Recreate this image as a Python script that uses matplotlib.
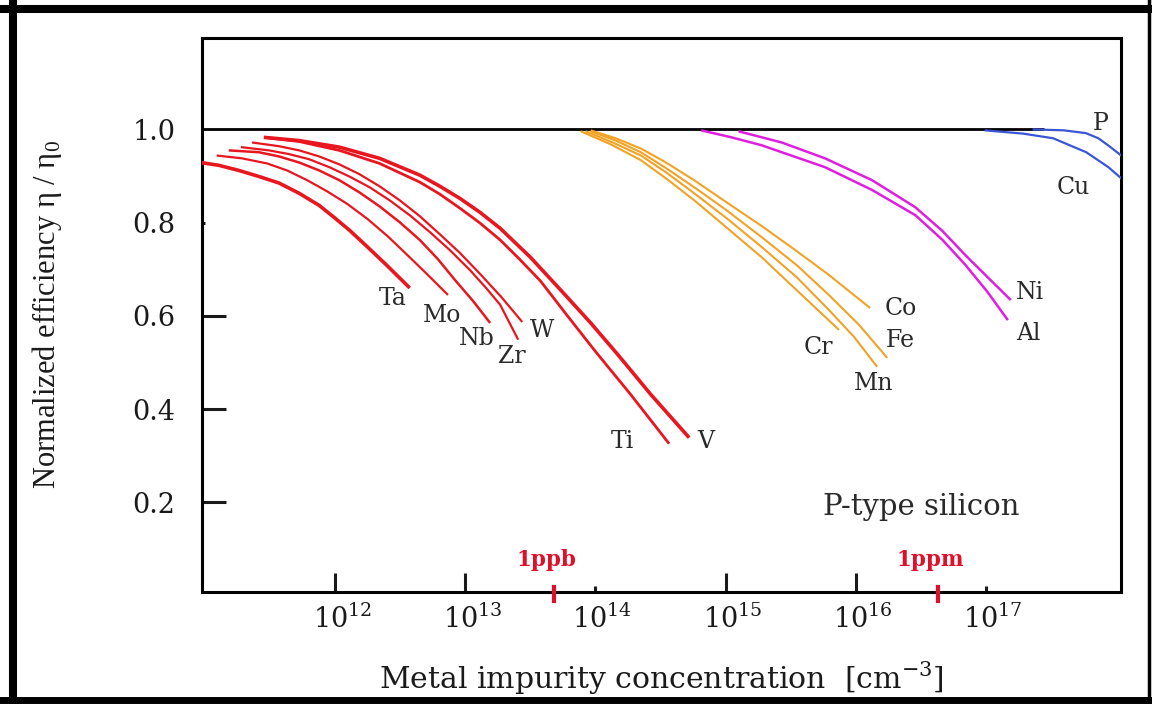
import matplotlib
matplotlib.use("Agg")
import matplotlib.pyplot as plt
import matplotlib.transforms as mtransforms
from matplotlib.lines import Line2D
import numpy as np

plt.rcParams["font.family"] = ["DejaVu Serif"]
plt.rcParams["mathtext.fontset"] = "custom"
plt.rcParams["mathtext.rm"] = "DejaVu Serif"

# ---- data: log10(concentration [cm-3]) and normalized efficiency ----
ta_lx = [10.964, 11.104, 11.258, 11.413, 11.567, 11.722, 11.876, 11.992,
         12.108, 12.247, 12.394, 12.572]
ta_eff = [0.929, 0.923, 0.912, 0.899, 0.885, 0.863, 0.837, 0.811,
          0.784, 0.748, 0.709, 0.660]
mo_lx = [11.088, 11.281, 11.475, 11.629, 11.784, 11.938, 12.093, 12.247,
         12.402, 12.556, 12.711, 12.866]
mo_eff = [0.944, 0.938, 0.927, 0.912, 0.891, 0.867, 0.840, 0.808,
          0.771, 0.730, 0.688, 0.645]
nb_lx = [11.181, 11.413, 11.567, 11.722, 11.876, 12.031, 12.185, 12.340,
         12.495, 12.649, 12.788, 12.920, 13.059, 13.190]
nb_eff = [0.955, 0.951, 0.942, 0.929, 0.912, 0.891, 0.865, 0.835,
          0.801, 0.763, 0.722, 0.677, 0.632, 0.585]
zr_lx = [11.274, 11.490, 11.645, 11.799, 11.954, 12.108, 12.263, 12.417,
         12.572, 12.726, 12.881, 13.036, 13.159, 13.267, 13.406]
zr_eff = [0.962, 0.955, 0.947, 0.936, 0.919, 0.899, 0.876, 0.848,
          0.816, 0.780, 0.741, 0.698, 0.660, 0.624, 0.549]
w_lx = [11.359, 11.567, 11.722, 11.876, 12.031, 12.185, 12.340, 12.495,
        12.649, 12.804, 12.958, 13.113, 13.275, 13.437]
w_eff = [0.972, 0.964, 0.955, 0.942, 0.925, 0.904, 0.878, 0.848,
         0.814, 0.775, 0.735, 0.690, 0.641, 0.587]
ti_lx = [11.451, 11.722, 12.031, 12.340, 12.649, 12.804, 12.958, 13.113,
         13.267, 13.422, 13.577, 13.785, 14.002, 14.272, 14.566]
ti_eff = [0.983, 0.974, 0.955, 0.927, 0.887, 0.861, 0.831, 0.799,
          0.763, 0.720, 0.675, 0.600, 0.523, 0.431, 0.326]
v_lx = [11.451, 11.722, 12.031, 12.340, 12.649, 12.804, 12.958, 13.113,
        13.267, 13.499, 13.731, 13.963, 14.172, 14.427, 14.720]
v_eff = [0.983, 0.976, 0.962, 0.938, 0.902, 0.878, 0.852, 0.822,
         0.788, 0.726, 0.656, 0.585, 0.517, 0.431, 0.339]

co_lx = [13.963, 14.156, 14.349, 14.542, 14.759, 15.006, 15.277, 15.547, 15.794, 16.111]
co_eff = [0.998, 0.981, 0.959, 0.929, 0.891, 0.844, 0.793, 0.739, 0.688, 0.617]
fe_lx = [13.963, 14.156, 14.349, 14.542, 14.759, 15.006, 15.277, 15.547, 15.794, 16.026, 16.243]
fe_eff = [0.996, 0.976, 0.951, 0.917, 0.876, 0.827, 0.769, 0.709, 0.645, 0.581, 0.510]
mn_lx = [13.924, 14.133, 14.349, 14.542, 14.759, 15.006, 15.277, 15.547, 15.794, 15.988, 16.165]
mn_eff = [0.996, 0.972, 0.944, 0.908, 0.863, 0.810, 0.748, 0.683, 0.613, 0.555, 0.491]
cr_lx = [13.886, 14.117, 14.349, 14.542, 14.759, 15.006, 15.277, 15.586, 15.872]
cr_eff = [0.996, 0.968, 0.934, 0.895, 0.848, 0.790, 0.726, 0.645, 0.570]

ni_lx = [15.099, 15.431, 15.764, 16.127, 16.459, 16.668, 16.845, 17.015, 17.193]
ni_eff = [0.996, 0.972, 0.938, 0.891, 0.833, 0.782, 0.730, 0.683, 0.634]
al_lx = [14.813, 15.045, 15.277, 15.764, 16.127, 16.459, 16.668, 16.845, 17.015, 17.170]
al_eff = [0.998, 0.983, 0.966, 0.919, 0.870, 0.816, 0.763, 0.709, 0.651, 0.591]

p_lx = [17.36, 17.60, 17.77, 17.866, 17.95, 18.06]
p_eff = [1.0, 0.998, 0.992, 0.981, 0.964, 0.940]
cu_lx = [16.992, 17.286, 17.518, 17.773, 17.943, 18.059]
cu_eff = [0.998, 0.991, 0.981, 0.951, 0.919, 0.891]

ppb_conc = 4.8e13
ppm_conc = 4.3e16
ref_line_end = 10 ** 17.45

x_ticks = [1e12, 1e13, 1e14, 1e15, 1e16, 1e17]
y_ticks = [0.2, 0.4, 0.6, 0.8, 1.0]
y_tick_labels = ["0.2", "0.4", "0.6", "0.8", "1.0"]

RED, ORANGE, MAGENTA, BLUE = "#e8161e", "#f2a224", "#e01ee0", "#3a55d6"

curves = [
    ("Ta", ta_lx, ta_eff, RED, 2.6), ("Mo", mo_lx, mo_eff, RED, 1.6),
    ("Nb", nb_lx, nb_eff, RED, 1.8), ("Zr", zr_lx, zr_eff, RED, 1.6),
    ("W", w_lx, w_eff, RED, 1.6), ("Ti", ti_lx, ti_eff, RED, 2.0),
    ("V", v_lx, v_eff, RED, 2.6),
    ("Co", co_lx, co_eff, ORANGE, 1.5), ("Fe", fe_lx, fe_eff, ORANGE, 1.5),
    ("Mn", mn_lx, mn_eff, ORANGE, 1.5), ("Cr", cr_lx, cr_eff, ORANGE, 1.5),
    ("Ni", ni_lx, ni_eff, MAGENTA, 1.8), ("Al", al_lx, al_eff, MAGENTA, 1.8),
    ("P", p_lx, p_eff, BLUE, 1.6), ("Cu", cu_lx, cu_eff, BLUE, 1.6),
]

# label anchor points (log10 x, efficiency)
label_pos = {
    "Ta": (12.44, 0.638), "Mo": (12.82, 0.602), "Nb": (13.085, 0.552),
    "Zr": (13.354, 0.512), "W": (13.59, 0.569), "Ti": (14.205, 0.331),
    "V": (14.85, 0.331), "Cr": (15.715, 0.533), "Co": (16.345, 0.617),
    "Fe": (16.345, 0.548), "Mn": (16.14, 0.456), "Ni": (17.34, 0.651),
    "Al": (17.33, 0.563), "P": (17.88, 1.013), "Cu": (17.67, 0.876),
}

fig = plt.figure(figsize=(11.52, 7.04), dpi=100)
ax = fig.add_axes([202 / 1152, 1 - 592 / 704, 919 / 1152, 554 / 704])

ax.hlines(1.0, 10 ** 10.9, ref_line_end, color="black", lw=2.0, zorder=2)
for name, lx, eff, col, lw in curves:
    ax.plot(10 ** np.array(lx), eff, color=col, lw=lw, zorder=3,
            solid_capstyle="butt", solid_joinstyle="round")
    px, py = label_pos[name]
    ax.text(10 ** px, py, name, fontsize=17, color="#2a2a2a",
            ha="center", va="center")

ax.set_xscale("log")
ax.set_xlim(10 ** 10.975, 10 ** 18.04)
ax.set_ylim(0.008, 1.196)

ax.set_xticks(x_ticks)
ax.xaxis.set_minor_locator(matplotlib.ticker.NullLocator())
ax.set_yticks(y_ticks)
ax.set_yticklabels(y_tick_labels)
ax.tick_params(direction="in", width=2.2, labelsize=19.5, colors="#1a1a1a")
ax.tick_params(axis="x", pad=9)
ax.tick_params(axis="y", pad=19)
for t, L in zip(ax.xaxis.get_major_ticks(), [13.7, 13.7, 4.3, 13.7, 13.7, 4.3]):
    t.tick1line.set_markersize(L)
for t, L in zip(ax.yaxis.get_major_ticks(), [17, 17, 17, 2, 0]):
    t.tick1line.set_markersize(L)
shift = mtransforms.ScaledTranslation(0.07, 0, fig.dpi_scale_trans)
for lbl in ax.get_xticklabels():
    lbl.set_transform(lbl.get_transform() + shift)

for s in ax.spines.values():
    s.set_linewidth(2.2)

ax.set_xlabel(r"Metal impurity concentration  [cm$^{\mathdefault{-3}}$]",
              fontsize=21.5, color="#1a1a1a")
ax.xaxis.set_label_coords(0.5, -0.122)
ax.set_ylabel(r"Normalized efficiency η / η$_{\mathdefault{0}}$",
              fontsize=22, family="Liberation Serif", color="#1a1a1a",
              va="center")
ax.yaxis.set_label_coords(-0.1687, 0.5)

ax.text(10 ** 16.505, 0.19, "P-type silicon", fontsize=21, color="#2a2a2a",
        ha="center", va="center")

# 1 ppb / 1 ppm markers on the x axis
mark_tr = mtransforms.blended_transform_factory(ax.transData, ax.transAxes)
for conc, txt in [(ppb_conc, "1ppb"), (ppm_conc, "1ppm")]:
    ax.plot([conc, conc], [-0.016, 0.009], color="#e0102a", lw=3,
            transform=mark_tr, clip_on=False, zorder=5)
    ax.text(conc * 0.87, 0.058, txt, transform=mark_tr, fontsize=15.5,
            fontweight="bold", color="#e0102a", ha="center", va="center")

# thick black frame around the whole picture
for xs, ys, w in [([13, 13], [0, 704], 5.8), ([0, 1152], [9, 9], 5.8),
                  ([1149, 1149], [0, 704], 2.5), ([0, 1152], [700, 700], 5.0)]:
    fig.add_artist(Line2D([x / 1152 for x in xs], [1 - y / 704 for y in ys],
                          color="black", lw=w, transform=fig.transFigure))

fig.savefig("out.png", dpi=100)
